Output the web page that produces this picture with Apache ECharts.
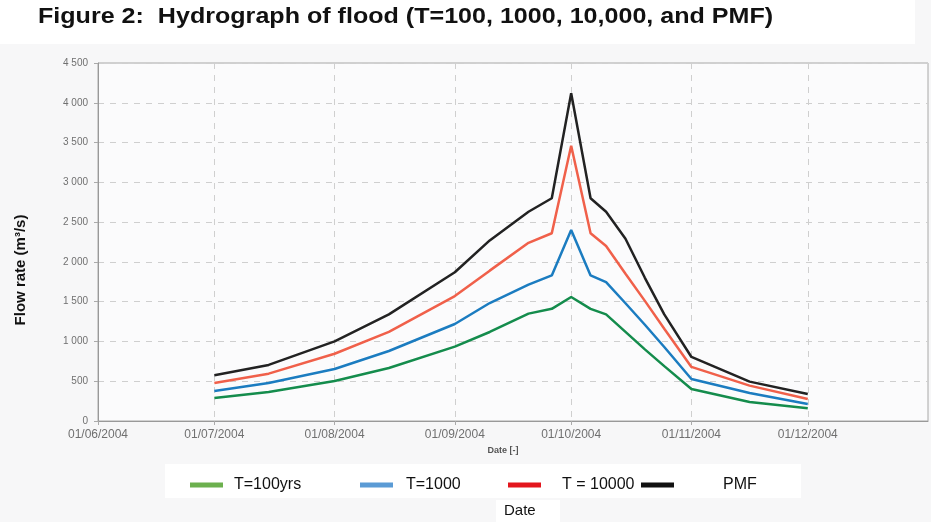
<!DOCTYPE html>
<html>
<head>
<meta charset="utf-8">
<script src="https://cdn.jsdelivr.net/npm/echarts@6/dist/echarts.min.js"></script>
<style>
  html, body { margin: 0; padding: 0; background: #f7f7f8; }
  #chart { width: 931px; height: 522px; }
</style>
</head>
<body>
<div id="chart"></div>
<script>
// dates of the hydrograph points
const dates = [
  '2004-07-01', '2004-07-15', '2004-08-01', '2004-08-15', '2004-09-01',
  '2004-09-10', '2004-09-20', '2004-09-26', '2004-10-01', '2004-10-06',
  '2004-10-10', '2004-10-15', '2004-10-20', '2004-10-25', '2004-11-01',
  '2004-11-16', '2004-12-01'
]
// flow rates (m3/s)
const t100 = [289, 365, 503, 666, 935, 1119, 1350, 1410, 1559, 1410, 1340, 1120, 900, 690, 402, 239, 160]
const t1000 = [377, 478, 654, 880, 1219, 1483, 1715, 1830, 2400, 1830, 1745, 1480, 1210, 930, 528, 352, 214]
const t10000 = [478, 595, 845, 1120, 1570, 1890, 2240, 2360, 3460, 2360, 2200, 1850, 1510, 1160, 680, 445, 277]
const pmf = [575, 705, 1000, 1340, 1870, 2270, 2630, 2800, 4120, 2800, 2630, 2290, 1800, 1340, 805, 495, 340]

const seriesNames = ['T=100yrs', 'T=1000', 'T = 10000', 'PMF']
const lineColors = ['#148c4c', '#1b7cc0', '#f0604a', '#222222']
const legendColors = ['#6cb04e', '#5b9bd5', '#e3161d', '#111111']
const legendLeft = [185, 355, 503, 636]
const legendTextPad = [6, 8, 16, 44]

const chart = echarts.init(document.getElementById('chart'))

function pair(vals) {
  return dates.map((d, i) => [d, vals[i]])
}

const allValues = [t100, t1000, t10000, pmf]

const option = {
  animation: false,
  backgroundColor: '#f7f7f8',
  graphic: [
    { type: 'rect', shape: { x: 0, y: 0, width: 915, height: 44 }, style: { fill: '#ffffff' }, z: -10 },
    { type: 'rect', shape: { x: 165, y: 464, width: 636, height: 34 }, style: { fill: '#ffffff' }, z: -10 },
    { type: 'rect', shape: { x: 496, y: 500, width: 64, height: 22 }, style: { fill: '#ffffff' }, z: -10 },
    {
      type: 'text', x: 38, y: 6, scaleX: 1.14,
      style: { text: 'Figure 2:  Hydrograph of flood (T=100, 1000, 10,000, and PMF)', fill: '#111', font: 'bold 22px "Liberation Sans", Arial, sans-serif' }
    },
    {
      type: 'text', left: 504, top: 503,
      style: { text: 'Date', fill: '#111', font: '15px "Liberation Sans", Arial, sans-serif' }
    }
  ],
  legend: seriesNames.map((n, i) => ({
    left: legendLeft[i],
    top: 472,
    data: [{ name: n, itemStyle: { color: legendColors[i] } }],
    icon: 'rect',
    itemWidth: 33,
    itemHeight: 5,
    textStyle: {
      color: '#111',
      fontSize: 16,
      fontFamily: '"Liberation Sans", Arial, sans-serif',
      padding: [0, 0, 0, legendTextPad[i]]
    }
  })),
  grid: {
    left: 98,
    right: 3,
    top: 63,
    bottom: 101,
    show: true,
    borderColor: '#a8a8a8',
    borderWidth: 1,
    backgroundColor: '#fbfbfc'
  },
  xAxis: {
    type: 'time',
    min: '2004-06-01',
    max: '2005-01-01',
    splitNumber: 7,
    name: 'Date [-]',
    nameLocation: 'middle',
    nameGap: 25,
    nameTextStyle: { color: '#555', fontSize: 9, fontWeight: 'bold', padding: [0, 20, 0, 0] },
    axisLine: { lineStyle: { color: '#999' } },
    axisTick: { show: true, length: 4, lineStyle: { color: '#aaa' } },
    axisLabel: {
      formatter: '{dd}/{MM}/{yyyy}',
      color: '#707070',
      fontSize: 12,
      margin: 8,
      showMaxLabel: false,
      hideOverlap: false
    },
    splitLine: { show: true, lineStyle: { color: '#cfcfcf', type: [6, 6] } }
  },
  yAxis: {
    type: 'value',
    min: 0,
    max: 4500,
    interval: 500,
    name: 'Flow rate (m³/s)',
    nameLocation: 'middle',
    nameGap: 70,
    nameTextStyle: { color: '#111', fontSize: 15, fontWeight: 'bold', padding: [0, 56, 0, 0] },
    axisLine: { show: true, lineStyle: { color: '#999' } },
    axisTick: { show: true, length: 4, lineStyle: { color: '#aaa' } },
    axisLabel: {
      color: '#707070',
      fontSize: 10,
      margin: 10,
      formatter: v => v >= 1000 ? Math.floor(v / 1000) + ' ' + String(v % 1000).padStart(3, '0') : String(v)
    },
    splitLine: { show: true, lineStyle: { color: '#cfcfcf', type: [6, 6] } }
  },
  series: seriesNames.map((n, i) => ({
    name: n,
    type: 'line',
    data: pair(allValues[i]),
    showSymbol: false,
    symbol: 'none',
    color: lineColors[i],
    lineStyle: { width: 2.5, color: lineColors[i] },
    z: 2 + i
  }))
}

chart.setOption(option)
</script>
</body>
</html>
